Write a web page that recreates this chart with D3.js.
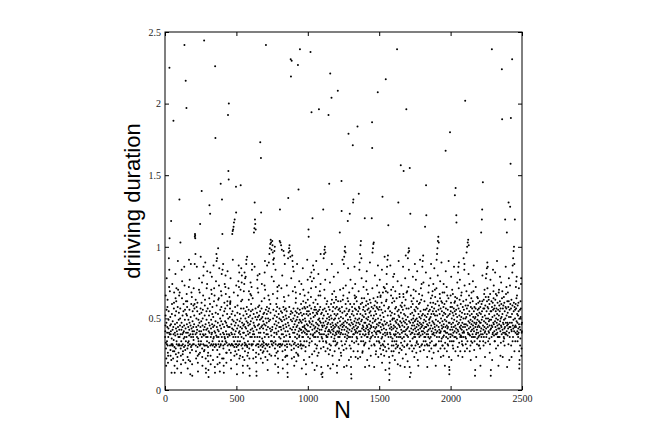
<!DOCTYPE html>
<html>
<head>
<meta charset="utf-8">
<script src="https://cdn.jsdelivr.net/npm/d3@7"></script>
<style>
  html, body { margin: 0; padding: 0; background: #fff; }
  svg { display: block; }
</style>
</head>
<body>
<svg id="chart" width="664" height="439"></svg>
<script>
// driving duration (x100) for trips N = 1..500
const durA = [
37,41,45,52,66,33,29,17,22,47, 56,78,32,34,40,44,58,63,31,26, 19,24,37,43,49,55,92,40,72,84, 225,106,39,69,31,45,51,28,24,39, 41,46,118,21,32,12,36,53,60,31,
74,32,42,48,31,27,22,44,188,39, 35,57,61,68,27,30,17,12,40,46, 52,38,81,64,29,25,43,55,62,71, 34,32,41,47,20,15,23,39,58,90, 44,70,31,37,26,49,54,32,66,42,
133,37,68,31,45,50,57,103,39,29, 24,18,12,34,42,47,84,31,64,76, 39,44,52,25,32,27,21,40,55,60, 36,41,30,45,86,241,73,37,49,56, 31,28,19,43,216,34,62,40,53,197,
37,67,46,52,58,62,29,23,15,40, 33,31,44,49,21,34,72,91,38,42, 56,47,77,32,26,20,11,39,45,51, 88,30,37,60,68,43,31,65,28,18, 10,41,48,55,39,32,37,44,59,35,
71,32,41,46,52,57,60,88,107,109, 108,106,95,39,63,31,27,22,44,50, 58,40,86,37,42,55,61,30,24,19, 13,36,45,49,34,32,25,70,78,41, 47,53,68,31,26,116,39,44,57,93,
32,34,41,48,54,61,139,37,75,29, 23,17,45,50,56,39,66,32,80,86, 42,38,27,244,31,28,44,52,59,63, 31,89,39,46,22,15,12,37,42,55, 49,71,31,34,74,83,43,37,57,24,
30,26,20,14,9,41,47,52,33,64, 129,40,45,55,60,123,82,31,24,18, 37,43,49,70,32,39,67,79,40,46, 53,58,34,31,28,21,44,51,36,87, 32,37,62,71,45,41,66,30,16,12,
226,40,176,48,54,32,76,31,38,95, 90,59,44,37,92,28,23,18,42,47, 53,99,63,32,37,41,64,73,34,85, 30,25,19,13,45,50,56,39,31,144, 32,69,43,48,58,66,81,37,133,22,
34,109,84,46,52,40,88,31,29,22, 17,12,39,44,55,61,37,74,32,36, 48,57,72,80,34,67,41,47,26,19, 33,26,39,45,53,59,62,83,31,37, 192,44,50,153,71,147,200,39,32,28,
65,38,44,51,57,60,61,62,78,31, 26,21,15,40,46,53,32,32,39,43, 109,49,55,111,91,31,112,37,42,114, 48,68,117,34,30,24,39,119,45,52, 58,27,32,37,41,47,142,124,73,32
];
// N = 501..1000
const durB = [
30,25,18,11,43,49,54,59,34,66, 31,37,45,76,28,87,40,72,32,82, 22,41,48,53,34,24,39,44,70,143, 50,57,62,85,31,37,75,80,43,47, 63,32,29,23,17,12,40,45,52,57,
36,69,40,46,74,21,82,33,31,27, 78,44,50,55,79,32,38,43,88,91, 48,53,58,31,93,30,24,17,41,47, 34,26,39,45,51,56,63,69,32,29, 22,15,10,40,46,52,37,67,75,42,
48,55,60,66,32,72,31,37,84,88, 43,50,56,64,32,39,28,22,41,47, 53,34,110,39,45,113,86,131,37,119, 44,116,51,57,112,23,31,26,19,13, 10,42,49,54,32,77,37,71,80,45,
51,58,68,32,30,25,40,46,52,59, 34,81,37,43,49,55,173,40,31,28, 22,162,124,44,50,57,62,74,32,36, 45,51,30,26,19,34,43,48,53,27, 31,33,40,46,54,64,73,82,37,90,
70,29,23,45,50,56,241,32,32,39, 42,47,53,58,87,31,27,21,14,39, 44,50,55,66,32,37,89,48,57,63, 95,25,30,99,43,49,102,60,54,105, 41,34,103,24,38,98,79,32,34,42,
104,44,101,31,96,67,50,91,56,88, 33,76,92,37,40,97,46,52,100,29, 24,18,34,84,32,43,48,55,60,40, 26,39,45,51,58,64,72,69,31,27, 22,16,12,41,47,53,32,73,37,44,
50,57,104,30,126,32,32,103,36,44, 49,55,101,42,71,31,39,98,48,54, 80,32,27,21,15,39,45,51,58,97, 43,34,65,37,94,49,56,62,88,31, 28,23,41,46,52,57,34,24,38,44,
50,55,73,32,30,24,18,12,9,41, 47,92,134,34,66,96,45,51,99,58, 39,101,32,37,97,37,43,93,53,231, 49,219,55,78,31,28,230,22,42,48, 94,54,90,34,69,86,40,44,50,57,
83,32,29,23,17,40,46,52,33,72, 37,42,48,55,61,68,64,31,26,20, 44,49,54,36,88,39,45,51,57,25, 227,32,30,24,140,41,47,53,37,76, 38,43,49,56,238,67,31,34,42,48,
54,32,60,42,74,29,47,15,40,52, 37,31,57,44,85,49,37,62,70,41, 31,53,21,44,34,58,45,66,40,50, 43,57,27,48,30,61,18,11,42,39, 53,34,46,39,55,91,58,41,77,63
];
// N = 1001..1500
const durC = [
45,37,52,68,112,107,55,41,31,48, 23,33,59,47,36,53,79,44,236,39, 50,65,71,57,82,194,46,34,76,25, 19,42,120,48,38,54,87,39,61,45, 51,78,84,37,56,27,43,14,40,58,
52,32,44,37,63,72,56,47,90,41, 29,54,17,41,31,53,46,24,60,43, 37,55,49,81,66,26,45,196,40,50, 56,34,42,69,48,39,58,66,74,95, 47,29,53,16,11,42,37,54,39,45,
36,9,12,44,50,56,34,126,47,30, 92,52,39,95,45,70,98,57,64,100, 41,77,96,27,48,43,34,55,38,33, 60,37,44,50,84,62,46,37,29,53, 17,41,47,39,192,58,25,42,51,144,
49,32,56,41,75,28,221,15,46,40, 52,31,60,44,37,204,50,88,63,42, 67,47,24,55,39,18,45,58,34,41, 43,79,49,61,69,36,53,27,38,44, 50,34,57,31,46,40,65,63,52,39,
45,32,58,17,12,41,33,53,47,209, 82,62,37,44,56,40,50,29,41,21, 43,57,37,110,48,70,55,39,45,62, 26,51,40,24,34,146,125,42,58,46, 31,54,91,44,63,39,50,71,66,47,
28,88,45,16,93,42,55,97,37,32, 100,48,39,96,60,73,52,44,34,29, 57,17,41,47,36,53,38,64,43,118, 49,85,62,40,179,55,37,21,46,68, 56,42,31,123,51,37,60,45,77,49,
29,23,16,11,8,41,47,53,34,58, 37,43,71,55,171,46,131,39,133,27, 52,44,39,60,33,48,86,66,42,57, 64,74,50,40,23,45,41,56,65,34, 47,37,62,43,53,36,40,184,49,27,
22,44,55,32,47,69,137,58,41,50, 84,57,89,46,39,95,23,53,101,41, 60,104,34,48,92,37,78,64,49,43, 61,26,52,27,45,39,56,34,44,72, 58,42,51,31,64,47,32,38,120,55,
16,41,47,33,53,39,59,43,76,50, 62,70,83,45,37,21,44,56,37,49, 67,60,42,51,40,57,39,29,46,17, 41,54,34,63,89,48,43,36,55,61, 24,45,52,37,44,31,58,120,40,187,
169,71,96,47,38,99,50,57,102,64, 44,103,52,32,16,41,59,31,48,80, 37,55,43,62,49,25,40,27,53,44, 39,58,34,46,73,61,41,57,65,208, 87,50,37,23,45,41,56,34,47,68
];
// N = 1501..2000
const durD = [
41,33,58,77,47,29,52,40,65,66, 44,31,25,49,56,36,61,42,84,19, 37,46,135,54,32,68,39,28,45,31, 51,72,43,59,24,34,48,93,71,40, 30,55,38,14,46,217,69,62,42,27,
63,81,74,47,86,39,40,91,68,52, 94,32,57,115,37,45,29,58,23,15, 7,11,19,43,40,55,48,87,39,46, 52,37,66,70,44,27,42,31,54,61, 34,49,36,24,50,64,72,79,43,31,
27,45,39,50,81,62,34,53,38,21, 44,57,69,48,29,39,41,58,32,47, 34,64,37,43,238,49,30,55,76,18, 40,31,46,131,52,90,56,37,26,45, 51,67,65,39,44,29,48,17,37,59,
157,54,33,42,73,47,28,58,40,61, 36,45,31,50,22,56,86,41,67,65, 153,48,37,53,30,44,34,59,16,41, 47,78,52,39,63,94,25,49,42,196, 57,68,46,31,38,69,43,32,20,51,
92,37,44,96,72,57,99,84,48,97, 29,41,16,155,9,34,47,123,53,39, 12,66,58,43,31,49,62,40,31,45, 54,27,40,36,60,79,47,50,42,64, 70,52,29,37,45,23,56,39,48,88,
43,37,55,31,49,69,77,41,58,26, 44,33,50,34,62,83,46,39,57,21, 48,32,42,17,53,39,45,60,67,40, 37,51,30,47,61,91,43,27,55,38, 50,71,46,63,31,44,74,41,52,32,
66,86,45,39,90,53,41,94,47,75, 34,56,28,43,49,37,62,40,31,52, 114,44,37,56,34,48,82,143,44,122, 51,39,57,32,46,23,16,41,31,53, 59,39,45,37,68,42,55,73,49,31,
27,47,36,50,56,33,43,78,61,51, 37,64,88,45,29,53,41,34,58,22, 66,39,48,69,43,55,39,61,74,47, 26,40,53,31,57,85,46,38,44,70, 52,65,42,60,31,17,49,32,55,40,
71,91,45,37,95,52,41,99,62,80, 104,48,27,107,56,44,103,34,59,37, 42,40,53,67,47,64,76,40,29,57, 41,23,50,34,62,89,45,36,55,43, 61,31,48,68,31,52,37,44,24,58,
74,46,38,54,41,68,60,29,49,17, 41,33,53,44,167,83,57,40,37,48, 62,72,45,27,51,40,66,43,32,56, 36,44,31,52,64,90,47,39,23,16, 11,14,47,53,34,180,42,37,58,66
];
// N = 2001..2500
const durE = [
55,39,61,79,46,21,44,50,34,58, 70,42,38,54,31,67,47,29,40,52, 34,57,44,86,49,37,61,41,55,136, 62,65,45,27,141,37,53,43,56,122, 117,40,48,36,64,51,75,59,42,30,
46,82,24,41,86,57,71,89,47,33, 52,39,63,44,77,55,37,27,49,43, 60,38,45,66,51,37,68,42,34,54, 32,47,23,40,58,31,44,37,62,50, 92,41,56,40,46,84,88,73,53,27,
44,202,37,50,59,32,46,36,63,51, 69,96,42,57,29,100,45,34,53,103, 40,59,105,39,48,81,101,43,66,39, 55,74,47,27,52,38,61,44,31,49, 21,58,41,34,64,46,68,53,37,42,
57,33,48,39,62,76,45,51,37,69, 43,87,55,41,28,47,58,34,50,37, 10,14,44,51,57,72,46,39,23,60, 47,40,53,42,32,65,36,49,44,56, 64,52,40,61,37,45,31,57,48,31,
38,54,44,62,34,47,29,58,17,41, 47,53,39,110,43,37,60,49,119,55, 126,62,80,51,39,145,45,34,57,42, 31,63,37,48,67,57,44,70,40,52, 23,41,59,33,47,65,78,50,43,37,
81,55,39,85,62,46,89,71,58,86, 44,50,34,57,65,41,63,48,40,53, 36,60,45,26,49,32,67,42,77,55, 10,14,43,49,55,62,37,45,238,58, 21,44,51,39,61,40,84,56,47,69,
64,73,46,38,57,41,52,34,59,34, 48,82,63,44,39,55,67,29,50,42, 57,39,47,66,90,53,40,45,61,37, 49,31,56,43,17,37,68,52,70,46, 59,43,37,55,62,79,48,41,24,57,
50,33,45,75,60,44,51,39,224,64, 189,69,53,42,23,57,47,40,59,34, 46,37,65,49,36,61,43,31,55,40, 44,119,50,39,58,86,47,67,39,57, 72,52,41,110,45,16,62,47,38,54,
68,46,43,58,32,131,62,78,51,40, 21,44,56,37,47,73,128,60,44,158, 51,190,57,31,42,63,23,41,47,53, 231,82,59,34,87,45,37,92,43,49, 97,55,61,100,41,88,27,58,44,119,
50,56,34,45,40,60,72,44,57,76, 64,48,79,39,66,53,41,47,34,59, 39,52,37,43,61,55,40,71,46,27, 15,18,21,44,50,56,31,42,36,62, 51,57,74,78,24,46,29,40,41,47
];

const xTicks = [0, 500, 1000, 1500, 2000, 2500];
const yTicks = [0, 0.5, 1, 1.5, 2, 2.5];
const xLabel = "N";
const yLabel = "driiving duration";

const data = [].concat(durA, durB, durC, durD, durE)
  .map((v, i) => ({ n: i + 1, d: v / 100 }));

const svg = d3.select("#chart");
const W = 664, H = 439;
const mLeft = 165, mRight = 522, mTop = 32, mBottom = 390;

svg.append("rect").attr("width", W).attr("height", H).attr("fill", "#fff");

const x = d3.scaleLinear().domain([0, 2500]).range([mLeft, mRight]);
const y = d3.scaleLinear().domain([0, 2.5]).range([mBottom, mTop]);

// points
svg.append("g")
  .selectAll("circle")
  .data(data)
  .join("circle")
  .attr("cx", d => x(d.n))
  .attr("cy", d => y(d.d))
  .attr("r", 1)
  .attr("fill", "#000");

const fmt = d3.format("");
const tickFont = "'Liberation Serif', 'Times New Roman', serif";

function styleAxis(g, showLabels) {
  g.select(".domain").remove();
  g.selectAll(".tick line").attr("stroke", "#000").attr("stroke-width", 1);
  g.selectAll(".tick text")
    .attr("fill", "#222")
    .style("font-family", tickFont)
    .style("font-size", "10px");
  if (!showLabels) g.selectAll(".tick text").remove();
}

svg.append("g")
  .attr("transform", `translate(0,${mBottom})`)
  .call(d3.axisBottom(x).tickValues(xTicks).tickSize(-4).tickPadding(5).tickFormat(fmt))
  .call(g => styleAxis(g, true));

svg.append("g")
  .attr("transform", `translate(0,${mTop})`)
  .call(d3.axisTop(x).tickValues(xTicks).tickSize(-4))
  .call(g => styleAxis(g, false));

svg.append("g")
  .attr("transform", `translate(${mLeft},0)`)
  .call(d3.axisLeft(y).tickValues(yTicks).tickSize(-4).tickPadding(4).tickFormat(fmt))
  .call(g => styleAxis(g, true));

svg.append("g")
  .attr("transform", `translate(${mRight},0)`)
  .call(d3.axisRight(y).tickValues(yTicks).tickSize(-4))
  .call(g => styleAxis(g, false));

// frame
svg.append("rect")
  .attr("x", mLeft).attr("y", mTop)
  .attr("width", mRight - mLeft).attr("height", mBottom - mTop)
  .attr("fill", "none").attr("stroke", "#000").attr("stroke-width", 1);

// axis labels
svg.append("text")
  .attr("x", (mLeft + mRight) / 2 - 1)
  .attr("y", 418)
  .attr("text-anchor", "middle")
  .style("font-family", "'Liberation Sans', Arial, sans-serif")
  .style("font-size", "23px")
  .attr("fill", "#000")
  .text(xLabel);

svg.append("text")
  .attr("transform", `translate(140,${(mTop + mBottom) / 2 - 10}) rotate(-90)`)
  .attr("text-anchor", "middle")
  .style("font-family", "'Liberation Sans', Arial, sans-serif")
  .style("font-size", "22px")
  .attr("fill", "#000")
  .text(yLabel);
</script>
</body>
</html>
